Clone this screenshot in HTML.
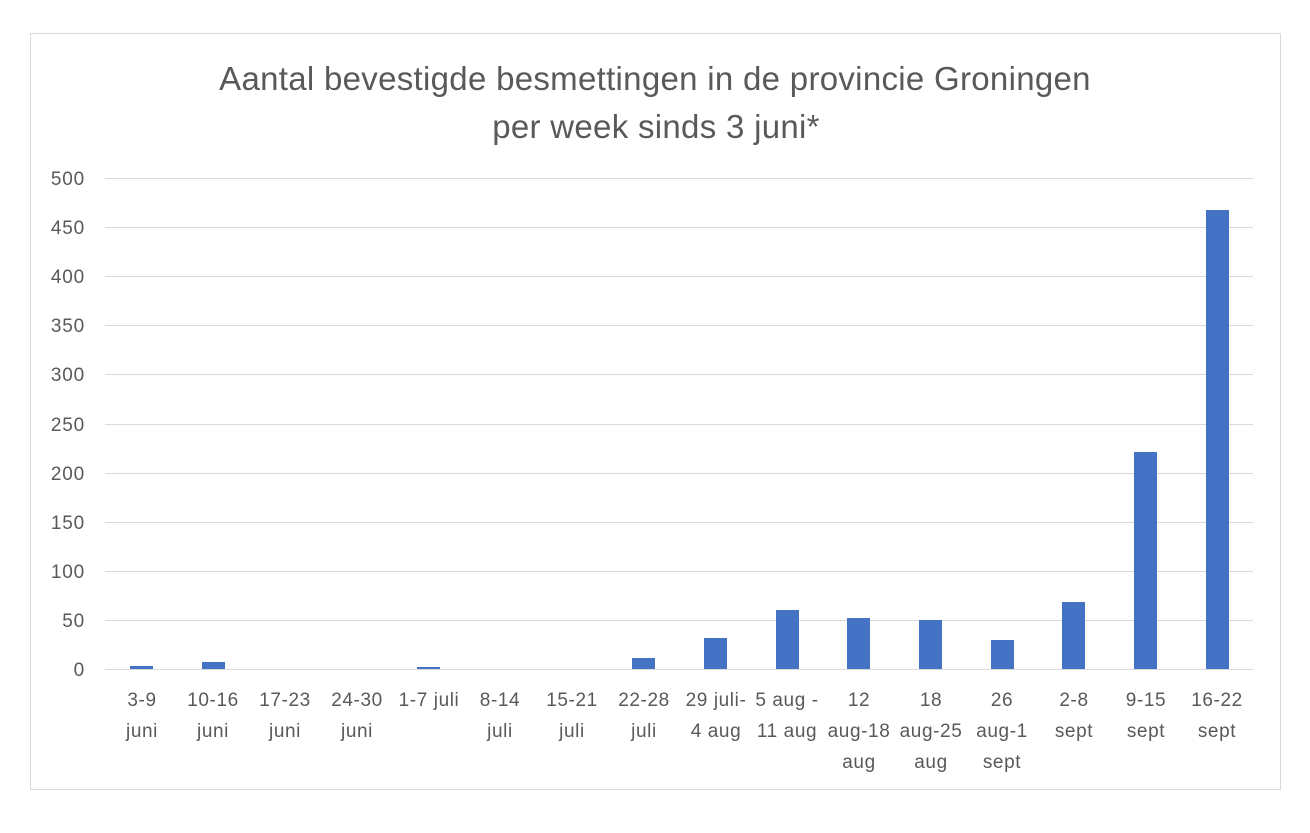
<!DOCTYPE html>
<html><head><meta charset="utf-8"><style>
body{margin:0;background:#fff;}
svg text{font-family:"Liberation Sans",sans-serif;fill:#595959;}
</style></head><body>
<svg width="1310" height="828" xmlns="http://www.w3.org/2000/svg">
<rect x="0" y="0" width="1310" height="828" fill="#fff"/>
<rect x="30.5" y="33.5" width="1250" height="756" fill="#fff" stroke="#d9d9d9" stroke-width="1"/>
<text x="655" y="90" font-size="33" text-anchor="middle" letter-spacing="0.3">Aantal bevestigde besmettingen in de provincie Groningen</text>
<text x="656" y="138" font-size="33" text-anchor="middle" letter-spacing="0.3">per week sinds 3 juni*</text>
<g stroke="#d9d9d9" stroke-width="1">
<line x1="105" x2="1253" y1="178.5" y2="178.5"/>
<line x1="105" x2="1253" y1="227.5" y2="227.5"/>
<line x1="105" x2="1253" y1="276.5" y2="276.5"/>
<line x1="105" x2="1253" y1="325.5" y2="325.5"/>
<line x1="105" x2="1253" y1="374.5" y2="374.5"/>
<line x1="105" x2="1253" y1="424.5" y2="424.5"/>
<line x1="105" x2="1253" y1="473.5" y2="473.5"/>
<line x1="105" x2="1253" y1="522.5" y2="522.5"/>
<line x1="105" x2="1253" y1="571.5" y2="571.5"/>
<line x1="105" x2="1253" y1="620.5" y2="620.5"/>
<line x1="105" x2="1253" y1="669.5" y2="669.5"/>
</g>
<g font-size="19" text-anchor="end" letter-spacing="0.8">
<text x="85" y="185">500</text><text x="85" y="234">450</text><text x="85" y="283">400</text>
<text x="85" y="332">350</text><text x="85" y="381">300</text><text x="85" y="431">250</text>
<text x="85" y="480">200</text><text x="85" y="529">150</text><text x="85" y="578">100</text>
<text x="85" y="627">50</text><text x="85" y="676">0</text>
</g>
<g fill="#4472c4">
<rect x="130" y="666" width="23" height="3"/>
<rect x="202" y="662" width="23" height="7"/>
<rect x="417" y="667" width="23" height="2"/>
<rect x="632" y="658" width="23" height="11"/>
<rect x="704" y="638" width="23" height="31"/>
<rect x="776" y="610" width="23" height="59"/>
<rect x="847" y="618" width="23" height="51"/>
<rect x="919" y="620" width="23" height="49"/>
<rect x="991" y="640" width="23" height="29"/>
<rect x="1062" y="602" width="23" height="67"/>
<rect x="1134" y="452" width="23" height="217"/>
<rect x="1206" y="210" width="23" height="459"/>
</g>
<g font-size="19" text-anchor="middle" letter-spacing="0.6">
<text x="142" y="706">3-9</text><text x="142" y="737">juni</text>
<text x="213" y="706">10-16</text><text x="213" y="737">juni</text>
<text x="285" y="706">17-23</text><text x="285" y="737">juni</text>
<text x="357" y="706">24-30</text><text x="357" y="737">juni</text>
<text x="429" y="706">1-7 juli</text>
<text x="500" y="706">8-14</text><text x="500" y="737">juli</text>
<text x="572" y="706">15-21</text><text x="572" y="737">juli</text>
<text x="644" y="706">22-28</text><text x="644" y="737">juli</text>
<text x="716" y="706">29 juli-</text><text x="716" y="737">4 aug</text>
<text x="787" y="706">5 aug -</text><text x="787" y="737">11 aug</text>
<text x="859" y="706">12</text><text x="859" y="737">aug-18</text><text x="859" y="768">aug</text>
<text x="931" y="706">18</text><text x="931" y="737">aug-25</text><text x="931" y="768">aug</text>
<text x="1002" y="706">26</text><text x="1002" y="737">aug-1</text><text x="1002" y="768">sept</text>
<text x="1074" y="706">2-8</text><text x="1074" y="737">sept</text>
<text x="1146" y="706">9-15</text><text x="1146" y="737">sept</text>
<text x="1217" y="706">16-22</text><text x="1217" y="737">sept</text>
</g>
</svg>
</body></html>
